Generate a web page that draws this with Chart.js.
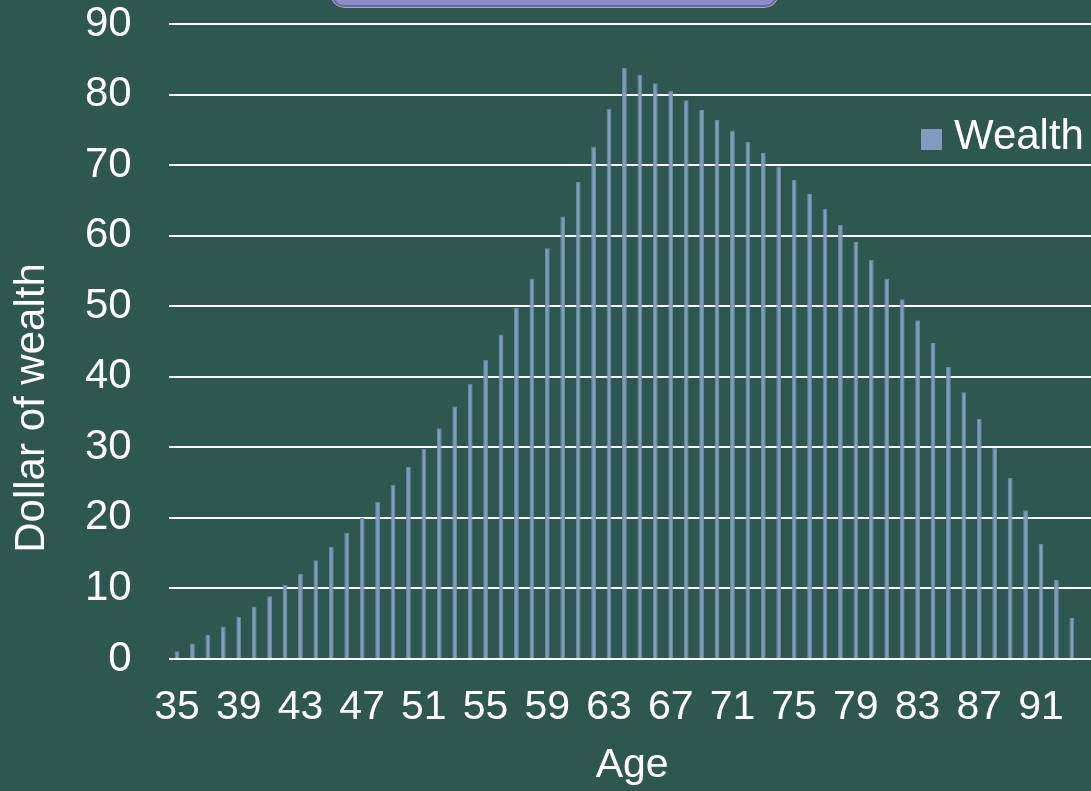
<!DOCTYPE html>
<html>
<head>
<meta charset="utf-8">
<script src="https://cdn.jsdelivr.net/npm/chart.js@4.4.1/dist/chart.umd.min.js"></script>
<style>
  html, body { margin: 0; padding: 0; background: #2E574F; overflow: hidden; width: 1091px; height: 791px; }
  #wrap { position: relative; width: 1100px; height: 791px; }
  canvas { position: absolute; left: 0; top: 0; }
  #titlebox { position: absolute; left: 331px; top: -42px; width: 443px; height: 45px;
    background: #8D8EC8; border: 2px solid #6A6AA2; border-radius: 14px;
    box-shadow: 0 0 0 1px #A9A9C4; }
  #legend { position: absolute; left: 921px; top: 114px; height: 42px; font-family: "Liberation Sans", Arial, sans-serif;
    font-size: 42px; line-height: 42px; color: #ffffff; white-space: nowrap; }
  #legend .sw { position: absolute; left: 0; top: 15px; width: 21px; height: 21px; background: #819CBF; }
  #legend .tx { position: absolute; left: 33px; top: 0; }
</style>
</head>
<body>
<div id="wrap">
  <canvas id="c" width="1100" height="791"></canvas>
  <div id="titlebox"></div>
  <div id="legend"><span class="sw"></span><span class="tx">Wealth</span></div>
</div>
<script>
const ages = [35,36,37,38,39,40,41,42,43,44,45,46,47,48,49,50,51,52,53,54,55,56,57,58,59,60,61,62,63,64,
  65,66,67,68,69,70,71,72,73,74,75,76,77,78,79,80,81,82,83,84,85,86,87,88,89,90,91,92,93];
const wealth = [1.1,2.2,3.4,4.6,6.0,7.4,8.9,10.5,12.1,14.0,15.9,17.9,20.0,22.3,24.7,27.2,29.8,32.7,35.8,39.0,
  42.4,46.0,49.8,53.9,58.2,62.7,67.6,72.6,78.0,83.8,82.8,81.6,80.5,79.2,77.8,76.4,74.9,73.3,71.7,69.8,
  67.9,65.9,63.8,61.5,59.1,56.6,53.9,51.0,48.0,44.8,41.4,37.8,34.0,29.9,25.7,21.1,16.3,11.2,5.8];
const xTickLabels = [35,39,43,47,51,55,59,63,67,71,75,79,83,87,91];
const yTickValues = [0,10,20,30,40,50,60,70,80,90];
const seriesName = 'Wealth';
const xTitle = 'Age';
const yTitle = 'Dollar of wealth';

const FONT = '"Liberation Sans", Arial, sans-serif';

// draws the vertical axis title beside the axis (Excel places it a bit below the plot centre)
const yTitlePlugin = {
  id: 'yTitlePlugin',
  afterDraw(chart) {
    const ctx = chart.ctx;
    ctx.save();
    ctx.translate(32, 408);
    ctx.rotate(-Math.PI / 2);
    ctx.font = '42px ' + FONT;
    ctx.fillStyle = '#ffffff';
    ctx.textAlign = 'center';
    ctx.textBaseline = 'middle';
    ctx.fillText(yTitle, 0, 0);
    ctx.restore();
  }
};

new Chart(document.getElementById('c'), {
  type: 'bar',
  data: {
    labels: ages,
    datasets: [{
      label: seriesName,
      data: wealth,
      backgroundColor: '#819CBF',
      borderColor: '#6C88AC',
      borderWidth: 1,
      barPercentage: 0.31,
      categoryPercentage: 1.0
    }]
  },
  plugins: [yTitlePlugin],
  options: {
    responsive: false,
    devicePixelRatio: 1,
    animation: false,
    layout: { padding: { left: 0, top: 0, right: 5, bottom: 0 } },
    plugins: { legend: { display: false }, tooltip: { enabled: false }, title: { display: false } },
    scales: {
      x: {
        type: 'linear',
        min: 34.5,
        max: 94.5,
        offset: false,
        grid: { display: false, drawTicks: false, offset: false },
        border: { display: false },
        afterBuildTicks: (scale) => { scale.ticks = xTickLabels.map(v => ({ value: v })); },
        afterFit: (scale) => { scale.height = 132; },
        ticks: {
          autoSkip: false, maxRotation: 0, minRotation: 0,
          color: '#ffffff', padding: 24,
          font: { family: FONT, size: 41 },
          callback: (v) => String(v)
        },
        title: {
          display: true, text: xTitle, color: '#ffffff',
          font: { family: FONT, size: 41 },
          padding: { top: 0, bottom: 1 }
        }
      },
      y: {
        min: 0,
        max: 90,
        afterBuildTicks: (scale) => { scale.ticks = yTickValues.map(v => ({ value: v })); },
        afterFit: (scale) => { scale.width = 169.3; scale.paddingTop = 24; scale.paddingBottom = 0; },
        grid: { color: '#ffffff', lineWidth: 2, drawTicks: false },
        border: { display: false },
        ticks: {
          color: '#ffffff', padding: 37.6,
          font: { family: FONT, size: 42 }
        },
        title: { display: false }
      }
    }
  }
});
</script>
</body>
</html>
